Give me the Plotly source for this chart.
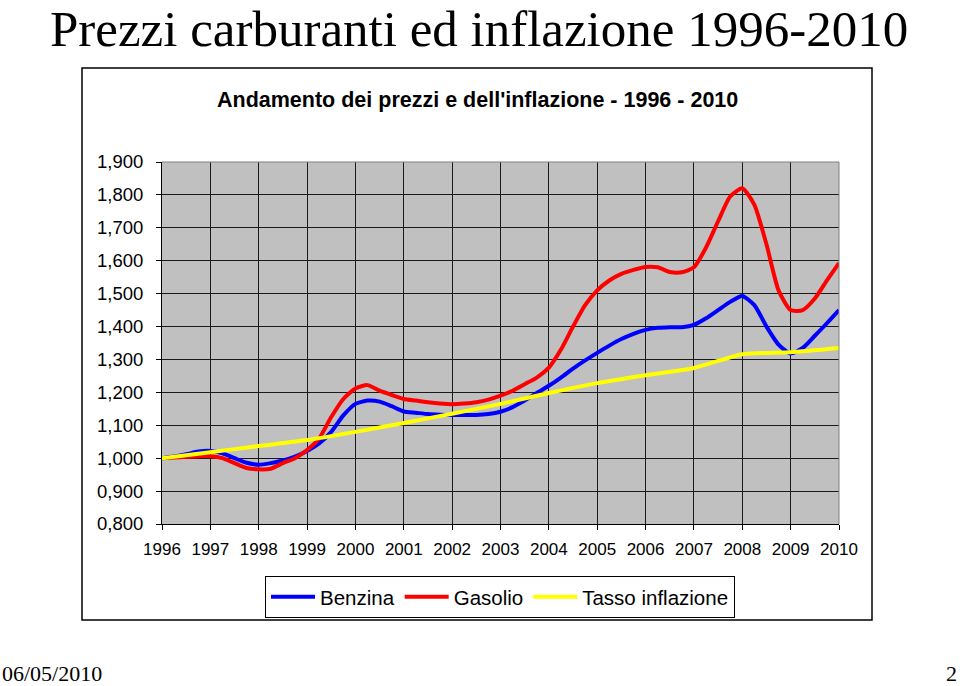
import plotly.graph_objects as go

# ---- data ----
quarters = [1996 + i * 0.25 for i in range(57)]

benzina = [
    1.000, 1.005, 1.012, 1.020, 1.022, 1.015, 1.000, 0.986,
    0.980, 0.985, 0.993, 1.005, 1.022, 1.045, 1.080, 1.130,
    1.165, 1.175, 1.172, 1.158, 1.142, 1.138, 1.134, 1.132,
    1.131, 1.131, 1.131, 1.134, 1.141, 1.155, 1.175, 1.198,
    1.220, 1.245, 1.272, 1.297, 1.320, 1.342, 1.362, 1.378,
    1.390, 1.396, 1.398, 1.398, 1.405, 1.425, 1.450, 1.475,
    1.493, 1.465, 1.400, 1.345, 1.318, 1.335, 1.372, 1.410,
    1.450,
]

gasolio = [
    1.000, 1.002, 1.004, 1.006, 1.006, 1.000, 0.985, 0.970,
    0.966, 0.968, 0.985, 1.000, 1.025, 1.060, 1.125, 1.180,
    1.212, 1.222, 1.205, 1.192, 1.180, 1.175, 1.170, 1.166,
    1.164, 1.166, 1.170, 1.178, 1.190, 1.205, 1.225, 1.245,
    1.275, 1.330, 1.400, 1.465, 1.510, 1.540, 1.560, 1.572,
    1.581, 1.580, 1.566, 1.565, 1.580, 1.640, 1.720, 1.795,
    1.820, 1.770, 1.650, 1.510, 1.450, 1.450, 1.485, 1.540,
    1.593,
]

years = list(range(1996, 2011))
inflazione = [1.000, 1.018, 1.037, 1.055, 1.080, 1.107, 1.135, 1.165,
              1.198, 1.228, 1.252, 1.274, 1.316, 1.322, 1.335]

year_labels = [str(y) for y in years]
y_ticks = [0.8, 0.9, 1.0, 1.1, 1.2, 1.3, 1.4, 1.5, 1.6, 1.7, 1.8, 1.9]

W, H = 960, 686
def px(x):
    return x / W
def py(y):
    return 1 - y / H

FONT = "Liberation Sans, Arial, sans-serif"
SERIF = "Liberation Serif, Times New Roman, serif"

fig = go.Figure()
fig.add_trace(go.Scatter(x=quarters, y=benzina, name="Benzina", mode="lines",
                         line=dict(color="#0000FF", width=4, shape="spline", smoothing=0.6)))
fig.add_trace(go.Scatter(x=quarters, y=gasolio, name="Gasolio", mode="lines",
                         line=dict(color="#FF0000", width=4, shape="spline", smoothing=0.6)))
fig.add_trace(go.Scatter(x=years, y=inflazione, name="Tasso inflazione", mode="lines",
                         line=dict(color="#FFFF00", width=4, shape="spline", smoothing=0.6)))

fig.update_layout(
    width=W, height=H,
    margin=dict(l=0, r=0, t=0, b=0, pad=0, autoexpand=False),
    paper_bgcolor="white",
    plot_bgcolor="#C0C0C0",
    separators=",.",
    font=dict(family=FONT, color="black"),
    showlegend=True,
    legend=dict(orientation="h", x=px(500), y=py(597), xanchor="center", yanchor="middle",
                bordercolor="black", borderwidth=1, bgcolor="white",
                font=dict(family=FONT, size=20.5, color="black"),
                itemwidth=44, tracegroupgap=0),
    xaxis=dict(domain=[px(162), px(839)], range=[1996, 2010],
               tickvals=years, ticktext=year_labels,
               ticks="outside", ticklen=5, tickcolor="black", tickwidth=1,
               ticklabelstandoff=5,
               showline=True, linecolor="black", linewidth=1,
               showgrid=True, gridcolor="#1a1a1a", gridwidth=1,
               zeroline=False, automargin=False,
               tickfont=dict(family=FONT, size=17, color="black")),
    yaxis=dict(domain=[py(524), py(162)], range=[0.8, 1.9],
               tickvals=y_ticks, tickformat=".3f",
               ticks="outside", ticklen=5, tickcolor="black", tickwidth=1,
               ticklabelstandoff=9,
               showline=True, linecolor="black", linewidth=1,
               showgrid=True, gridcolor="#1a1a1a", gridwidth=1,
               zeroline=False, automargin=False,
               tickfont=dict(family=FONT, size=18.5, color="black")),
)

# plot-area top/right border (gray)
fig.add_shape(type="line", xref="x domain", yref="y domain", x0=0, x1=1, y0=1, y1=1,
              line=dict(color="#808080", width=1), layer="above")
fig.add_shape(type="line", xref="x domain", yref="y domain", x0=1, x1=1, y0=0, y1=1,
              line=dict(color="#808080", width=1), layer="above")
# chart box
fig.add_shape(type="rect", xref="paper", yref="paper", x0=px(82), x1=px(872), y0=py(620), y1=py(68),
              line=dict(color="black", width=1.5), layer="below")

fig.add_annotation(text="<b>Andamento dei prezzi e dell'inflazione - 1996 - 2010</b>",
                   xref="paper", yref="paper", x=px(477), y=py(100), xanchor="center", yanchor="middle",
                   showarrow=False, font=dict(family=FONT, size=21.5, color="black"))
fig.add_annotation(text="Prezzi carburanti ed inflazione 1996-2010",
                   xref="paper", yref="paper", x=px(479), y=py(29), xanchor="center", yanchor="middle",
                   showarrow=False, font=dict(family=SERIF, size=51, color="black"))
fig.add_annotation(text="06/05/2010", xref="paper", yref="paper", x=px(0), y=py(673),
                   xanchor="left", yanchor="middle", showarrow=False,
                   font=dict(family=SERIF, size=22, color="black"))
fig.add_annotation(text="2", xref="paper", yref="paper", x=px(959), y=py(673),
                   xanchor="right", yanchor="middle", showarrow=False,
                   font=dict(family=SERIF, size=22, color="black"))

fig.write_html("out.html", config={"displayModeBar": False},
               post_script="document.body.style.margin='0';document.body.style.overflow='hidden';")
